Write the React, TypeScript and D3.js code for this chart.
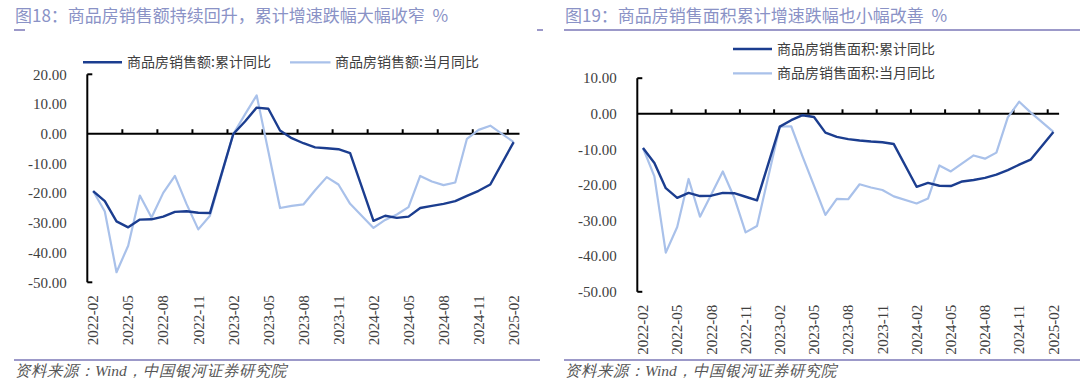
import React from 'react';
import * as d3 from 'd3';

const axisMonths = [
  '2022-02','2022-03','2022-04','2022-05','2022-06','2022-07','2022-08','2022-09','2022-10','2022-11','2022-12',
  '2023-01','2023-02','2023-03','2023-04','2023-05','2023-06','2023-07','2023-08','2023-09','2023-10','2023-11','2023-12',
  '2024-01','2024-02','2024-03','2024-04','2024-05','2024-06','2024-07','2024-08','2024-09','2024-10','2024-11','2024-12',
  '2025-01','2025-02'
];

const dataMonths = [
  '2022-02','2022-03','2022-04','2022-05','2022-06','2022-07','2022-08','2022-09','2022-10','2022-11','2022-12',
  '2023-02','2023-03','2023-04','2023-05','2023-06','2023-07','2023-08','2023-09','2023-10','2023-11','2023-12',
  '2024-02','2024-03','2024-04','2024-05','2024-06','2024-07','2024-08','2024-09','2024-10','2024-11','2024-12',
  '2025-02'
];

const tickLabels = ['2022-02','2022-05','2022-08','2022-11','2023-02','2023-05','2023-08','2023-11','2024-02','2024-05','2024-08','2024-11','2025-02'];

const leftYTicks = [20, 10, 0, -10, -20, -30, -40, -50];
const rightYTicks = [10, 0, -10, -20, -30, -40, -50];

// 商品房销售额:累计同比
const salesAmountCum = [
  -19.3, -22.7, -29.5, -31.5, -28.9, -28.8, -27.9, -26.3, -26.1, -26.6, -26.7,
  -0.1, 4.1, 8.8, 8.4, 1.1, -1.5, -3.2, -4.6, -4.9, -5.2, -6.5,
  -29.3, -27.6, -28.3, -27.9, -25.0, -24.3, -23.6, -22.7, -20.9, -19.2, -17.1,
  -2.8
];
// 商品房销售额:当月同比
const salesAmountMonth = [
  -19.3, -26.2, -46.6, -37.7, -20.8, -28.2, -19.9, -14.2, -23.7, -32.2, -27.6,
  -0.1, 6.5, 12.9, -6.0, -25.0, -24.3, -23.8, -19.0, -14.6, -17.1, -23.6,
  -31.7, -29.0, -27.2, -24.7, -14.2, -16.1, -17.3, -16.4, -1.7, 1.3, 2.7,
  -2.8
];
// 商品房销售面积:累计同比
const salesAreaCum = [
  -9.6, -13.8, -20.9, -23.6, -22.2, -23.1, -23.0, -22.2, -22.3, -23.3, -24.3,
  -3.6, -1.8, -0.4, -0.9, -5.3, -6.5, -7.1, -7.5, -7.8, -8.0, -8.5,
  -20.5, -19.4, -20.2, -20.3, -19.0, -18.6, -18.0, -17.1, -15.8, -14.3, -12.9,
  -5.1
];
// 商品房销售面积:当月同比
const salesAreaMonth = [
  -9.6, -17.6, -39.0, -31.8, -18.3, -28.9, -22.6, -16.2, -23.5, -33.3, -31.5,
  -3.6, -3.5, -12.0, -20.2, -28.4, -23.9, -24.0, -19.8, -20.7, -21.4, -23.2,
  -25.2, -23.8, -14.5, -16.2, -13.9, -11.7, -12.6, -10.9, -1.0, 3.4, 0.4,
  -5.1
];

const DARK = '#1b3d8f';
const LIGHT = '#a9c1ea';
const TITLE = '#8a92c6';
const RULE = '#7b77b7';
const TEXT = '#404040';
const SERIF = '"Liberation Serif", "Times New Roman", serif';
const CJK = '"Noto Sans CJK SC", "Noto Sans", sans-serif';

type PanelProps = {
  x0: number; x1: number; top: number; bottom: number;
  domain: [number, number]; yTicks: number[];
  dark: number[]; light: number[];
};

function Panel({ x0, x1, top, bottom, domain, yTicks, dark, light }: PanelProps) {
  const x = d3.scaleBand<string>().domain(axisMonths).range([x0, x1]).paddingInner(0).paddingOuter(0);
  const bw = x.bandwidth();
  const cx = (m: string) => (x(m) as number) + bw / 2;
  const y = d3.scaleLinear().domain(domain).range([bottom, top]);
  const line = d3.line<number>()
    .x((_, i) => cx(dataMonths[i]))
    .y((v) => y(v));
  const y0 = y(0);
  return (
    <g>
      {yTicks.map((t) => (
        <text key={t} x={x0 - 20.5} y={y(t)} dy="0.35em" textAnchor="end" fontFamily={SERIF} fontSize={15} fill={TEXT}>
          {t.toFixed(2)}
        </text>
      ))}
      <line x1={x0} x2={x0} y1={y(domain[1])} y2={y(domain[0])} stroke="#000" strokeWidth={2} />
      <line x1={x0} x2={x0 + 5} y1={y(domain[1])} y2={y(domain[1])} stroke="#000" strokeWidth={2} />
      <line x1={x0} x2={x0 + 5} y1={y(domain[0])} y2={y(domain[0])} stroke="#000" strokeWidth={2} />
      <line x1={x0} x2={x1} y1={y0} y2={y0} stroke="#000" strokeWidth={2} />
      {tickLabels.slice(1).map((m) => (
        <line key={m} x1={x(m) as number} x2={x(m) as number} y1={y0} y2={y0 - 4.5} stroke="#000" strokeWidth={2} />
      ))}
      {tickLabels.map((m) => (
        <text key={m} transform={`translate(${cx(m)},${bottom + 13}) rotate(-90)`} dy="0.35em" textAnchor="end"
          fontFamily={SERIF} fontSize={15} fill={TEXT}>{m}</text>
      ))}
      <path d={line(light) || ''} fill="none" stroke={LIGHT} strokeWidth={2.2} strokeLinejoin="round" />
      <path d={line(dark) || ''} fill="none" stroke={DARK} strokeWidth={2.4} strokeLinejoin="round" />
    </g>
  );
}

export default function App() {
  return (
    <svg width={1080} height={382} style={{ position: 'absolute', left: 0, top: 0, background: '#fff' }}>
      <rect width={1080} height={382} fill="#fff" />
      {/* titles */}
      <text x={15} y={16} dy="0.35em" fontFamily={CJK} fontSize={17} fill={TITLE} style={{ whiteSpace: 'pre' }}>图18：商品房销售额持续回升，累计增速跌幅大幅收窄  %</text>
      <text x={565} y={16} dy="0.35em" fontFamily={CJK} fontSize={17} fill={TITLE} style={{ whiteSpace: 'pre' }}>图19：商品房销售面积累计增速跌幅也小幅改善  %</text>
      {/* rules */}
      <line x1={14} x2={25} y1={30} y2={30} stroke={RULE} strokeWidth={1.5} />
      <line x1={537} x2={543} y1={30} y2={30} stroke={RULE} strokeWidth={1.5} />
      <line x1={564} x2={1080} y1={30} y2={30} stroke={RULE} strokeWidth={1.5} />
      <line x1={14} x2={540} y1={360} y2={360} stroke={RULE} strokeWidth={1.5} />
      <line x1={564} x2={1080} y1={360} y2={360} stroke={RULE} strokeWidth={1.5} />
      {/* legends */}
      <line x1={83} x2={122} y1={62.3} y2={62.3} stroke={DARK} strokeWidth={2.4} />
      <text x={127} y={62.3} dy="0.35em" fontFamily={CJK} fontSize={14} fill={TEXT}>商品房销售额:累计同比</text>
      <line x1={290} x2={330.5} y1={62.3} y2={62.3} stroke={LIGHT} strokeWidth={2.2} />
      <text x={335} y={62.3} dy="0.35em" fontFamily={CJK} fontSize={14} fill={TEXT}>商品房销售额:当月同比</text>
      <line x1={733} x2={772} y1={49} y2={49} stroke={DARK} strokeWidth={2.4} />
      <text x={777} y={49} dy="0.35em" fontFamily={CJK} fontSize={14} fill={TEXT}>商品房销售面积:累计同比</text>
      <line x1={733} x2={772} y1={73.3} y2={73.3} stroke={LIGHT} strokeWidth={2.2} />
      <text x={777} y={73.3} dy="0.35em" fontFamily={CJK} fontSize={14} fill={TEXT}>商品房销售面积:当月同比</text>
      <Panel x0={87.3} x1={519.5} top={74.3} bottom={282.3} domain={[-50, 20]} yTicks={leftYTicks}
        dark={salesAmountCum} light={salesAmountMonth} />
      <Panel x0={637.3} x1={1059.1} top={78.2} bottom={291.8} domain={[-50, 10]} yTicks={rightYTicks}
        dark={salesAreaCum} light={salesAreaMonth} />
      {/* sources */}
      <text x={15} y={371} dy="0.35em" fontFamily={SERIF} fontStyle="italic" fontSize={15.5} fill="#555">资料来源：Wind，中国银河证券研究院</text>
      <text x={565} y={371} dy="0.35em" fontFamily={SERIF} fontStyle="italic" fontSize={15.5} fill="#555">资料来源：Wind，中国银河证券研究院</text>
    </svg>
  );
}
